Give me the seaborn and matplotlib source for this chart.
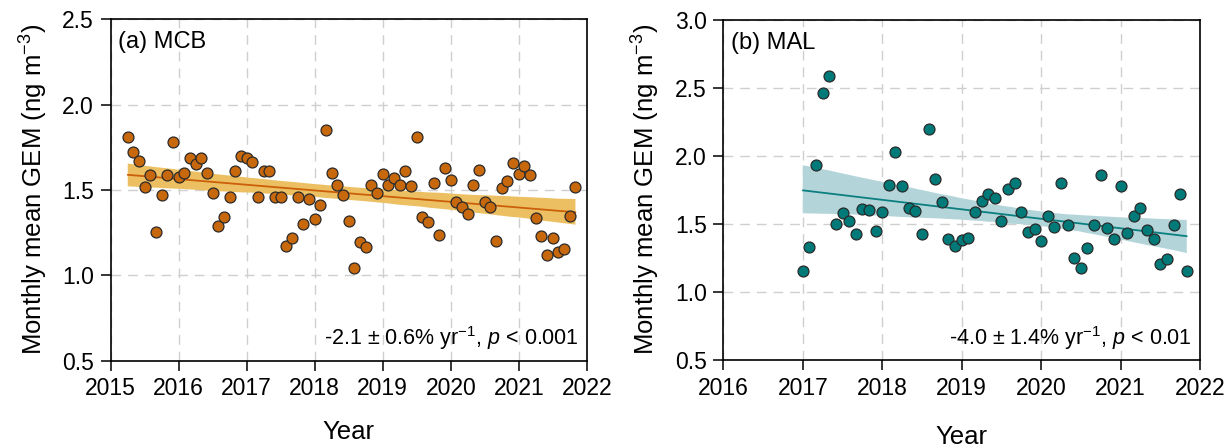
import numpy as np
import pandas as pd
import matplotlib
matplotlib.use("Agg")
import matplotlib.pyplot as plt
import seaborn as sns

# ---------------- data ----------------
mcb_start = "2015-04"
mcb_gem = [1.81, 1.725, 1.67, 1.515, 1.59, 1.255, 1.47, 1.59, 1.78, 1.575,
           1.60, 1.69, 1.65, 1.69, 1.60, 1.485, 1.29, 1.34, 1.457, 1.61,
           1.70, 1.686, 1.665, 1.46, 1.61, 1.61, 1.46, 1.46, 1.17, 1.22,
           1.46, 1.30, 1.447, 1.33, 1.41, 1.85, 1.60, 1.53, 1.47, 1.32,
           1.045, 1.196, 1.163, 1.53, 1.484, 1.594, 1.53, 1.57, 1.53, 1.61,
           1.525, 1.81, 1.34, 1.31, 1.54, 1.237, 1.63, 1.56, 1.43, 1.40,
           1.36, 1.53, 1.614, 1.43, 1.40, 1.20, 1.51, 1.55, 1.66, 1.594,
           1.64, 1.59, 1.337, 1.23, 1.12, 1.22, 1.134, 1.153, 1.35, 1.516]

mal_start = "2017-01"
mal_gem = [1.155, 1.333, 1.93, 2.46, 2.587, 1.50, 1.578, 1.52, 1.43, 1.61,
           1.603, 1.45, 1.59, 1.79, 2.026, 1.78, 1.62, 1.598, 1.43, 2.20,
           1.833, 1.664, 1.388, 1.34, 1.38, 1.40, 1.586, 1.671, 1.72, 1.69,
           1.52, 1.755, 1.80, 1.586, 1.44, 1.46, 1.377, 1.56, 1.48, 1.80,
           1.493, 1.25, 1.177, 1.326, 1.493, 1.86, 1.47, 1.39, 1.777, 1.434,
           1.56, 1.617, 1.456, 1.39, 1.206, 1.24, 1.493, 1.72, 1.155]

panel_titles = ["(a) MCB", "(b) MAL"]
trend_texts = [r"-2.1 ± 0.6% yr$^{-1}$, $\mathit{p}$ < 0.001",
               r"-4.0 ± 1.4% yr$^{-1}$, $\mathit{p}$ < 0.01"]
x_ticks_a = [2015, 2016, 2017, 2018, 2019, 2020, 2021, 2022]
x_ticks_b = [2016, 2017, 2018, 2019, 2020, 2021, 2022]
y_ticks_a = [0.5, 1.0, 1.5, 2.0, 2.5]
y_ticks_b = [0.5, 1.0, 1.5, 2.0, 2.5, 3.0]


def to_frame(start, values):
    d = pd.date_range(start, periods=len(values), freq="MS")
    return pd.DataFrame({"year": d.year + (d.month - 1) / 12.0, "gem": values})


df_a = to_frame(mcb_start, mcb_gem)
df_b = to_frame(mal_start, mal_gem)

# ---------------- style ----------------
sns.set_style("white")
plt.rcParams["font.family"] = ["Liberation Sans", "DejaVu Sans"]
plt.rcParams["mathtext.fontset"] = "custom"
plt.rcParams["mathtext.rm"] = "Liberation Sans"
plt.rcParams["mathtext.it"] = "Liberation Sans:italic"
plt.rcParams["mathtext.default"] = "regular"

fig = plt.figure(figsize=(12.25, 4.48), dpi=100)
ax_a = fig.add_axes([0.0904, 0.195, 0.3886, 0.762])
ax_b = fig.add_axes([0.5905, 0.196, 0.3891, 0.760])

specs = [
    (ax_a, df_a, "#C8680C", "#CC5F0A", "#ECC062", x_ticks_a, y_ticks_a, (2015, 2022), (0.5, 2.5), 14),
    (ax_b, df_b, "#007A78", "#0B7F80", "#B3D5DA", x_ticks_b, y_ticks_b, (2016, 2022), (0.5, 3.0), 18),
]

for i, (ax, df, pcol, lcol, bcol, xt, yt, xl, yl, xlpad) in enumerate(specs):
    ax.set_axisbelow(True)
    ax.grid(True, color="#CFCFCF", linestyle=(0, (7, 5)), linewidth=1.0)
    sns.regplot(data=df, x="year", y="gem", ax=ax, ci=95, seed=0,
                scatter_kws=dict(s=62, color=pcol, edgecolor="#2a2a2a",
                                 linewidths=0.9, alpha=1, zorder=4),
                line_kws=dict(color=lcol, linewidth=1.3, zorder=3))
    # recolor the confidence band
    for coll in ax.collections:
        if coll.get_offsets().shape[0] != len(df):
            coll.set_facecolor(bcol)
            coll.set_edgecolor("none")
            coll.set_alpha(1.0)
            coll.set_zorder(2)
    ax.set_xlim(*xl)
    ax.set_ylim(*yl)
    ax.set_xticks(xt)
    ax.set_yticks(yt)
    ax.set_yticklabels([f"{v:.1f}" for v in yt])
    ax.tick_params(axis="both", direction="out", length=7, width=1.1,
                   bottom=True, left=True, labelsize=16.5, color="black",
                   labelcolor="black", pad=5)
    for sp in ax.spines.values():
        sp.set_visible(True)
        sp.set_color("black")
        sp.set_linewidth(1.2)
    ax.set_xlabel("Year", fontsize=18.5, labelpad=xlpad, color="black")
    ax.set_ylabel(r"Monthly mean GEM (ng m$^{-3}$)", fontsize=18.5,
                  labelpad=9, color="black")
    ax.text(0.016, 0.965, panel_titles[i], transform=ax.transAxes,
            ha="left", va="top", fontsize=17, color="black")
    ax.text(0.983, 0.025, trend_texts[i], transform=ax.transAxes,
            ha="right", va="bottom", fontsize=15.5, color="black")

fig.savefig("out.png", dpi=100)
